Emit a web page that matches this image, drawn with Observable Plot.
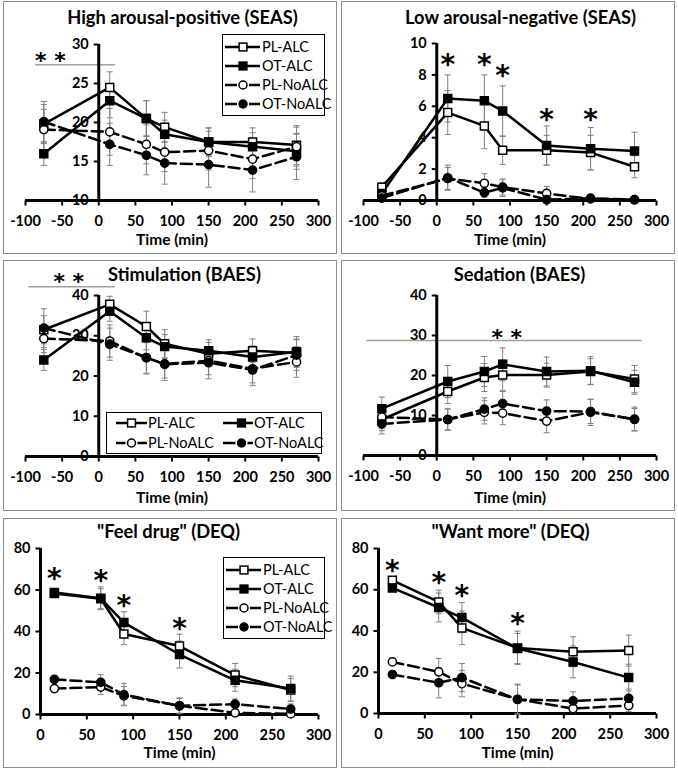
<!DOCTYPE html>
<html><head><meta charset="utf-8">
<script src="https://cdn.jsdelivr.net/npm/d3@7"></script>
<script src="https://cdn.jsdelivr.net/npm/@observablehq/plot@0.6"></script>
<style>
body{margin:0;background:#fff;}
#root{position:relative;width:678px;height:771px;overflow:hidden;background:#fff;}
.box{position:absolute;border:1px solid #8c8c8c;box-sizing:border-box;}
.abs{position:absolute;}
svg{overflow:visible;}
</style></head><body><div id="root"></div>
<script>
// ---------- data ----------
const groups = ["PL-ALC", "OT-ALC", "PL-NoALC", "OT-NoALC"];
const timesSEAS = [-75, 15, 65, 90, 150, 210, 270];
const timesDEQ = [15, 65, 90, 150, 210, 270];
const xTicksFull = [-100, -50, 0, 50, 100, 150, 200, 250, 300];
const xTicksDEQ = [0, 50, 100, 150, 200, 250, 300];

// High arousal-positive (SEAS)
const hapYTicks = [10, 15, 20, 25, 30];
const hapPLALC   = [19.8, 24.5, 20.5, 19.4, 17.5, 17.5, 17.1];
const hapOTALC   = [16.0, 22.8, 20.5, 18.5, 17.5, 16.9, 16.3];
const hapPLNoALC = [19.1, 18.8, 17.2, 16.2, 16.4, 15.3, 16.9];
const hapOTNoALC = [20.1, 17.2, 15.8, 14.8, 14.6, 13.9, 15.6];
const hapErrPLALC   = [2.5, 2.0, 2.3, 1.9, 1.8, 1.8, 2.5];
const hapErrOTALC   = [1.5, 2.2, 2.3, 1.8, 1.8, 1.8, 2.3];
const hapErrPLNoALC = [2.6, 3.0, 2.5, 2.5, 2.5, 2.5, 2.5];
const hapErrOTNoALC = [2.6, 2.7, 2.5, 2.7, 2.9, 2.8, 2.9];
const hapStarX = [-66], hapStarY = [28.5], hapStarText = "* *";
const hapBarX = [-86, 23], hapBarY = 27.4;

// Low arousal-negative (SEAS)
const lanYTicks = [0, 2, 4, 6, 8, 10];
const lanPLALC   = [0.85, 5.6, 4.75, 3.2, 3.2, 3.05, 2.15];
const lanOTALC   = [0.45, 6.5, 6.35, 5.7, 3.5, 3.3, 3.15];
const lanPLNoALC = [0.3, 1.4, 1.1, 0.85, 0.45, 0.1, 0.05];
const lanOTNoALC = [0.15, 1.45, 0.5, 0.8, 0.05, 0.15, 0.05];
const lanErrPLALC   = [0.3, 1.4, 1.45, 0.9, 0.95, 1.1, 0.7];
const lanErrOTALC   = [0.3, 1.5, 1.65, 1.6, 1.25, 1.35, 1.2];
const lanErrPLNoALC = [0.2, 0.7, 0.6, 0.5, 0.45, 0.1, 0.05];
const lanErrOTNoALC = [0.2, 0.8, 0.3, 0.55, 0.1, 0.15, 0.05];
const lanStarX = [15, 65, 90, 150, 210], lanStarY = [9.0, 9.0, 8.3, 5.5, 5.5], lanStarText = "*";

// Stimulation (BAES)
const stimYTicks = [0, 10, 20, 30, 40];
const stimPLALC   = [31.5, 37.8, 32.3, 28.0, 25.5, 26.3, 25.7];
const stimOTALC   = [24.0, 36.1, 29.5, 27.3, 26.3, 24.7, 26.0];
const stimPLNoALC = [29.3, 28.7, 24.5, 23.0, 23.8, 21.8, 23.5];
const stimOTNoALC = [31.9, 27.9, 24.6, 22.9, 23.3, 21.5, 25.2];
const stimErrPLALC   = [3.5, 2.0, 3.8, 3.5, 2.8, 2.9, 3.5];
const stimErrOTALC   = [2.6, 2.5, 3.0, 3.0, 2.7, 2.8, 3.8];
const stimErrPLNoALC = [3.5, 4.0, 3.8, 3.5, 3.5, 3.5, 3.8];
const stimErrOTNoALC = [4.8, 4.0, 4.1, 4.0, 4.0, 3.9, 3.8];
const stimStarX = [-41], stimStarY = [44.4], stimStarText = "* *";
const stimBarX = [-95.5, 22.8], stimBarY = 42.2;

// Sedation (BAES)
const sedYTicks = [0, 10, 20, 30, 40];
const sedPLALC   = [9.0, 16.0, 19.5, 20.1, 20.1, 21.0, 19.1];
const sedOTALC   = [11.7, 18.5, 21.0, 22.8, 21.0, 21.2, 18.3];
const sedPLNoALC = [9.6, 9.0, 10.8, 10.6, 8.6, 10.8, 9.1];
const sedOTNoALC = [7.9, 9.0, 11.6, 13.0, 11.1, 11.0, 9.0];
const sedErrPLALC   = [2.8, 3.0, 3.5, 3.8, 3.0, 3.2, 3.4];
const sedErrOTALC   = [2.9, 4.0, 3.75, 4.1, 3.6, 3.5, 3.0];
const sedErrPLNoALC = [2.8, 2.6, 2.9, 2.9, 2.9, 3.3, 3.0];
const sedErrOTNoALC = [2.5, 2.7, 2.8, 3.0, 2.8, 3.0, 2.75];
const sedStarX = [95.6], sedStarY = [30.6], sedStarText = "* *";
const sedBarX = [-95.5, 280], sedBarY = 28.75;

// "Feel drug" (DEQ)
const feelYTicks = [0, 20, 40, 60, 80];
const feelPLALC   = [58.3, 55.8, 38.8, 33.0, 19.0, 11.8];
const feelOTALC   = [58.8, 56.0, 44.3, 28.9, 16.5, 12.5];
const feelPLNoALC = [12.5, 13.2, 9.0, 4.2, 0.8, 0.3];
const feelOTNoALC = [16.9, 15.5, 9.6, 4.2, 5.0, 2.6];
const feelErrPLALC   = [1.5, 4.8, 5.1, 5.7, 5.6, 5.5];
const feelErrOTALC   = [1.5, 5.5, 5.2, 6.5, 5.3, 6.0];
const feelErrPLNoALC = [1.6, 3.6, 4.5, 3.5, 1.0, 0.5];
const feelErrOTNoALC = [1.5, 3.8, 5.4, 3.8, 2.5, 2.5];
const feelStarX = [15, 65, 90, 150], feelStarY = [68.0, 67.1, 55.1, 43.9], feelStarText = "*";

// "Want more" (DEQ)
const wantYTicks = [0, 20, 40, 60, 80];
const wantPLALC   = [64.6, 54.1, 41.5, 31.8, 29.9, 30.5];
const wantOTALC   = [60.9, 51.4, 46.5, 31.5, 25.0, 17.4];
const wantPLNoALC = [25.0, 20.2, 14.5, 6.9, 2.4, 3.9];
const wantOTNoALC = [18.9, 14.9, 17.4, 6.8, 6.1, 7.3];
const wantErrPLALC   = [1.5, 5.7, 8.1, 8.1, 7.3, 7.5];
const wantErrOTALC   = [1.5, 7.0, 7.3, 7.3, 7.7, 6.5];
const wantErrPLNoALC = [1.0, 6.5, 6.4, 7.3, 2.0, 3.0];
const wantErrOTNoALC = [1.0, 7.3, 6.8, 7.0, 4.4, 4.5];
const wantStarX = [15, 65, 90, 150], wantStarY = [71.9, 66.2, 59.8, 46.0], wantStarText = "*";

// ---------- styling ----------
const FONT = "Lato, 'Open Sans', sans-serif";
const STAR_FONT = "'DejaVu Sans', sans-serif";
const style = {
  "PL-ALC":   {symbol: "square", fill: "white", dashed: false},
  "OT-ALC":   {symbol: "square", fill: "black", dashed: false},
  "PL-NoALC": {symbol: "circle", fill: "white", dashed: true},
  "OT-NoALC": {symbol: "circle", fill: "black", dashed: true}
};
const DASH = "11,5";
const ERR = "#808080";
const capSym = {draw(ctx) { ctx.moveTo(-3, 0); ctx.lineTo(3, 0); }};
const tickDown = {draw(ctx) { ctx.moveTo(0, 0); ctx.lineTo(0, 5); }};
const tickLeft = {draw(ctx) { ctx.moveTo(0, 0); ctx.lineTo(-5, 0); }};

const panels = [
  {title: "High arousal-positive (SEAS)", box: {x: 3, y: 1, w: 334, h: 253}, xPx: [25, 318], yPx: [200, 44],
   xDomain: [-100, 300], yDomain: [10, 30], xTicks: xTicksFull, yTicks: hapYTicks, times: timesSEAS,
   values: [hapPLALC, hapOTALC, hapPLNoALC, hapOTNoALC], errors: [hapErrPLALC, hapErrOTALC, hapErrPLNoALC, hapErrOTNoALC],
   titleDx: 10.5, titleY: 18, labelY: 240, starX: hapStarX, starY: hapStarY, starText: hapStarText, starSize: 22,
   barX: hapBarX, barY: hapBarY, legend: {type: "v", x: 222, y: 34, w: 103, h: 82}},
  {title: "Low arousal-negative (SEAS)", box: {x: 341, y: 1, w: 334, h: 253}, xPx: [363, 656], yPx: [200, 43],
   xDomain: [-100, 300], yDomain: [0, 10], xTicks: xTicksFull, yTicks: lanYTicks, times: timesSEAS,
   values: [lanPLALC, lanOTALC, lanPLNoALC, lanOTNoALC], errors: [lanErrPLALC, lanErrOTALC, lanErrPLNoALC, lanErrOTNoALC],
   titleDx: 10.5, titleY: 18, labelY: 240, starX: lanStarX, starY: lanStarY, starText: lanStarText, starSize: 28},
  {title: "Stimulation (BAES)", box: {x: 3, y: 260, w: 334, h: 251}, xPx: [25, 318], yPx: [456, 295],
   xDomain: [-100, 300], yDomain: [0, 40], xTicks: xTicksFull, yTicks: stimYTicks, times: timesSEAS,
   values: [stimPLALC, stimOTALC, stimPLNoALC, stimOTNoALC], errors: [stimErrPLALC, stimErrOTALC, stimErrPLNoALC, stimErrOTNoALC],
   titleDx: 12.5, titleY: 275, labelY: 498, starX: stimStarX, starY: stimStarY, starText: stimStarText, starSize: 22,
   barX: stimBarX, barY: stimBarY, legend: {type: "h", x: 106, y: 412, w: 216, h: 42}},
  {title: "Sedation (BAES)", box: {x: 341, y: 260, w: 334, h: 251}, xPx: [363, 656], yPx: [455, 295],
   xDomain: [-100, 300], yDomain: [0, 40], xTicks: xTicksFull, yTicks: sedYTicks, times: timesSEAS,
   values: [sedPLALC, sedOTALC, sedPLNoALC, sedOTNoALC], errors: [sedErrPLALC, sedErrOTALC, sedErrPLNoALC, sedErrOTNoALC],
   titleDx: 9.5, titleY: 275, labelY: 498, starX: sedStarX, starY: sedStarY, starText: sedStarText, starSize: 22,
   barX: sedBarX, barY: sedBarY},
  {title: "\"Feel drug\" (DEQ)", box: {x: 3, y: 518, w: 334, h: 250}, xPx: [40, 318], yPx: [714, 548],
   xDomain: [0, 300], yDomain: [0, 80], xTicks: xTicksDEQ, yTicks: feelYTicks, times: timesDEQ,
   values: [feelPLALC, feelOTALC, feelPLNoALC, feelOTNoALC], errors: [feelErrPLALC, feelErrOTALC, feelErrPLNoALC, feelErrOTNoALC],
   titleDx: -11, titleY: 532, labelY: 753, starX: feelStarX, starY: feelStarY, starText: feelStarText, starSize: 28,
   legend: {type: "v", x: 223, y: 557, w: 102, h: 82}},
  {title: "\"Want more\" (DEQ)", box: {x: 341, y: 518, w: 334, h: 250}, xPx: [378, 656], yPx: [713, 548],
   xDomain: [0, 300], yDomain: [0, 80], xTicks: xTicksDEQ, yTicks: wantYTicks, times: timesDEQ,
   values: [wantPLALC, wantOTALC, wantPLNoALC, wantOTNoALC], errors: [wantErrPLALC, wantErrOTALC, wantErrPLNoALC, wantErrOTNoALC],
   titleDx: -7, titleY: 532, labelY: 753, starX: wantStarX, starY: wantStarY, starText: wantStarText, starSize: 28}
];

const root = document.getElementById("root");

function drawPanel(p) {
  const b = p.box;
  const border = document.createElement("div");
  border.className = "box";
  Object.assign(border.style, {left: b.x + "px", top: b.y + "px", width: b.w + "px", height: b.h + "px"});
  root.appendChild(border);

  const marginLeft = p.xPx[0] - b.x, marginRight = b.x + b.w - p.xPx[1];
  const marginTop = p.yPx[1] - b.y, marginBottom = b.y + b.h - p.yPx[0];
  const yAxisX = p.xDomain[0] < 0 ? 0 : p.xDomain[0];
  const y0 = p.yDomain[0];

  const errMarks = [], solidLines = [], dashLines = [], dots = [];
  groups.forEach((g, gi) => {
    const rows = p.times.map((t, i) => ({t, v: p.values[gi][i], e: p.errors[gi][i]}));
    const st = style[g];
    errMarks.push(
      Plot.ruleX(rows, {x: "t", y1: d => d.v - d.e, y2: d => d.v + d.e, stroke: ERR, strokeWidth: 1}),
      Plot.dot(rows, {x: "t", y: d => d.v + d.e, symbol: capSym, fill: "none", stroke: ERR, strokeWidth: 1}),
      Plot.dot(rows, {x: "t", y: d => d.v - d.e, symbol: capSym, fill: "none", stroke: ERR, strokeWidth: 1})
    );
    const line = Plot.line(rows, {x: "t", y: "v", stroke: "black", strokeWidth: 2.5,
      strokeDasharray: st.dashed ? DASH : null, strokeLinejoin: "round"});
    (st.dashed ? dashLines : solidLines).push(line);
    dots.push(Plot.dot(rows, {x: "t", y: "v", symbol: st.symbol, r: st.symbol === "square" ? 4.5 : 4.1,
      fill: st.fill, stroke: "black", strokeWidth: 1.5}));
  });

  const marks = [
    // tick labels
    Plot.text(p.yTicks, {x: yAxisX, y: d => d, text: d => String(d), textAnchor: "end", dx: -10, lineAnchor: "middle",
      fontFamily: FONT, fontWeight: 700, fontSize: 14.5, fill: "black"}),
    Plot.text(p.xTicks, {x: d => d, y: y0, text: d => String(d), dy: 21, lineAnchor: "middle",
      fontFamily: FONT, fontWeight: 700, fontSize: 14.5, fill: "black"}),
    Plot.text(["Time (min)"], {frameAnchor: "bottom", lineAnchor: "middle", dy: p.labelY - p.yPx[0],
      fontFamily: FONT, fontWeight: 700, fontSize: 15.5, fill: "black"}),
    Plot.text([p.title], {frameAnchor: "top", lineAnchor: "middle", dx: p.titleDx, dy: p.titleY - p.yPx[1],
      fontFamily: FONT, fontWeight: 700, fontSize: 18.3, fill: "black"}),
    // significance bar
    ...(p.barX ? [Plot.ruleY([p.barY], {x1: p.barX[0], x2: p.barX[1], stroke: "#a0a0a0", strokeWidth: 1.5})] : []),
    // axes
    Plot.ruleY([y0], {stroke: "black", strokeWidth: 3}),
    Plot.ruleX([yAxisX], {stroke: "black", strokeWidth: 3}),
    Plot.dot(p.xTicks, {x: d => d, y: y0, symbol: tickDown, fill: "none", stroke: "black", strokeWidth: 2}),
    Plot.dot(p.yTicks, {x: yAxisX, y: d => d, symbol: tickLeft, fill: "none", stroke: "black", strokeWidth: 2}),
    ...errMarks,
    ...dashLines,
    ...solidLines,
    ...dots,
    // stars
    Plot.text(p.starX.map((x, i) => ({x, y: p.starY[i]})), {x: "x", y: "y", text: () => p.starText, lineAnchor: "middle",
      fontFamily: STAR_FONT, fontWeight: 700, fontSize: p.starSize, dy: p.starSize * 0.2, fill: "black"})
  ];

  const svg = Plot.plot({
    width: b.w, height: b.h, marginLeft, marginRight, marginTop, marginBottom,
    x: {domain: p.xDomain, axis: null},
    y: {domain: p.yDomain, axis: null},
    style: {background: "transparent", overflow: "visible"},
    marks
  });
  svg.classList.add("abs");
  svg.style.left = b.x + "px";
  svg.style.top = b.y + "px";
  root.appendChild(svg);

  if (p.legend) drawLegend(p.legend);
}

function swatch(g, cx, cy, lineX0, lineX1) {
  const st = style[g];
  let s = "";
  if (st.dashed) {
    s += `<line x1="${lineX0}" x2="${cx - 6}" y1="${cy}" y2="${cy}" stroke="black" stroke-width="2.5"/>`;
    s += `<line x1="${cx + 6}" x2="${lineX1}" y1="${cy}" y2="${cy}" stroke="black" stroke-width="2.5"/>`;
  } else {
    s += `<line x1="${lineX0}" x2="${lineX1}" y1="${cy}" y2="${cy}" stroke="black" stroke-width="2.5"/>`;
  }
  if (st.symbol === "square") {
    s += `<rect x="${cx - 3.9}" y="${cy - 3.9}" width="7.8" height="7.8" fill="${st.fill}" stroke="black" stroke-width="1.5"/>`;
  } else {
    s += `<circle cx="${cx}" cy="${cy}" r="4" fill="${st.fill}" stroke="black" stroke-width="1.5"/>`;
  }
  return s;
}

function drawLegend(L) {
  let inner = `<rect x="0.5" y="0.5" width="${L.w - 1}" height="${L.h - 1}" fill="white" stroke="black" stroke-width="1"/>`;
  groups.forEach((g, i) => {
    let lx0, lx1, cx, cy, tx;
    if (L.type === "v") {
      cy = 13 + i * 19; lx0 = 3; lx1 = 38; cx = 21; tx = 40;
    } else {
      const col = i % 2, row = Math.floor(i / 2);
      cy = 11 + row * 20;
      lx0 = col ? 117 : 10; lx1 = col ? 147 : 41; cx = col ? 135.5 : 25.5; tx = col ? 148 : 42;
    }
    inner += swatch(g, cx, cy, lx0, lx1);
    inner += `<text x="${tx}" y="${cy}" dy="0.35em" font-family="Lato, 'Open Sans', sans-serif" font-size="14.5" fill="black">${g}</text>`;
  });
  const div = document.createElement("div");
  div.className = "abs";
  Object.assign(div.style, {left: L.x + "px", top: L.y + "px", width: L.w + "px", height: L.h + "px"});
  div.innerHTML = `<svg width="${L.w}" height="${L.h}" xmlns="http://www.w3.org/2000/svg">${inner}</svg>`;
  root.appendChild(div);
}

panels.forEach(drawPanel);
</script>
</body></html>
